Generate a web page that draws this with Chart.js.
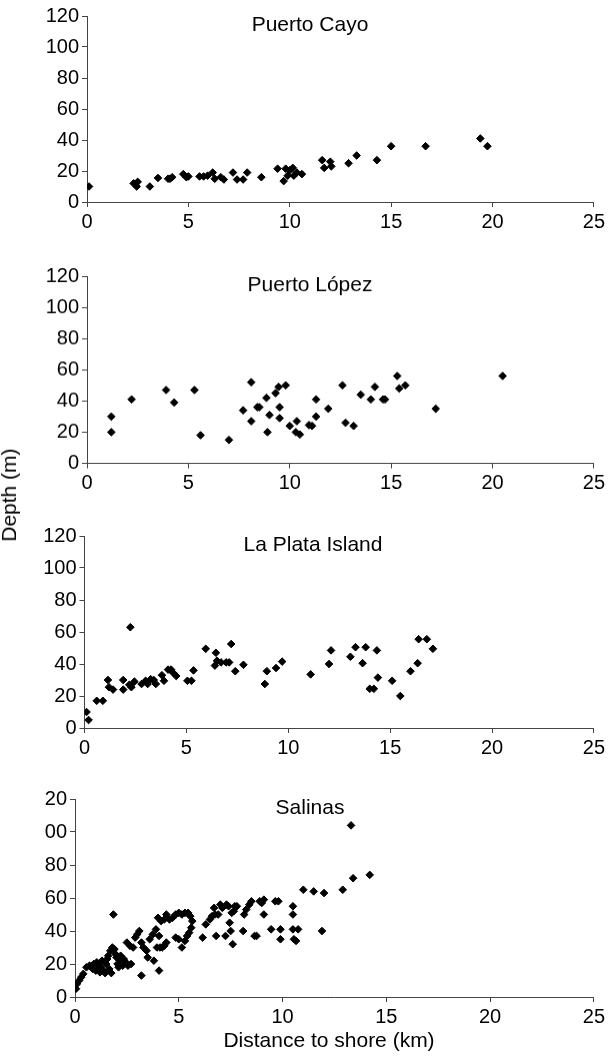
<!DOCTYPE html>
<html>
<head>
<meta charset="utf-8">
<script src="https://cdn.jsdelivr.net/npm/chart.js@4.4.0/dist/chart.umd.min.js"></script>
<style>
  html, body { margin: 0; padding: 0; background: #fff; }
  body { width: 608px; height: 1057px; position: relative; overflow: hidden; font-family: "Liberation Sans", Arial, sans-serif; }
  .panel { position: absolute; left: 0; width: 608px; }
  .axis-title { position: absolute; font-size: 21px; color: #000; white-space: nowrap; }
</style>
</head>
<body>

<div class="axis-title" id="yTitle" style="left:9px; top:495px; transform: translate(-50%, -50%) rotate(-90deg);">Depth (m)</div>
<div class="axis-title" id="xTitle" style="left:329px; top:1040px; transform: translate(-50%, -50%);">Distance to shore (km)</div>

<script>
// distance to shore (km), depth (m)
const puertoCayo = [
  [0.1, 10], [2.3, 12], [2.45, 10], [2.5, 13], [3.1, 10], [3.5, 15.5], [4.0, 15], [4.1, 15],
  [4.2, 16], [4.75, 18], [4.9, 16], [5.0, 16.5], [5.55, 16.5], [5.75, 16.5], [5.95, 17],
  [6.2, 19], [6.3, 15], [6.6, 16], [6.75, 14.5], [7.2, 19], [7.4, 14.5], [7.7, 14.5],
  [7.9, 19], [8.6, 16], [9.4, 21.5], [9.7, 13.5], [9.8, 21.5], [9.9, 17], [10.0, 20.5],
  [10.15, 22], [10.2, 17], [10.35, 19], [10.6, 18], [11.6, 27], [11.7, 22], [12.0, 26],
  [12.05, 23], [12.9, 25], [13.3, 30], [14.3, 27], [15.0, 36], [16.7, 36], [19.4, 41], [19.75, 36]
];

const puertoLopez = [
  [1.2, 30], [1.2, 20], [2.2, 41], [3.9, 47], [4.3, 39], [5.3, 47], [5.6, 18], [7.0, 15],
  [7.7, 34], [8.1, 52], [8.1, 27], [8.4, 36], [8.5, 36], [8.85, 42], [8.9, 20], [9.0, 31],
  [9.3, 45], [9.45, 49], [9.5, 36], [9.5, 29], [9.8, 50], [10.0, 24], [10.3, 20], [10.35, 27],
  [10.5, 18.5], [10.95, 24.5], [11.1, 24], [11.3, 41], [11.3, 30], [11.9, 35], [12.6, 50],
  [12.75, 26], [13.15, 24], [13.5, 44], [14.0, 41], [14.2, 49], [14.6, 41], [14.7, 41],
  [15.3, 56], [15.4, 48], [15.7, 50], [17.2, 35], [20.5, 56]
];

const laPlata = [
  [0.1, 10], [0.2, 5], [0.6, 17], [0.9, 17], [1.15, 30], [1.2, 25.5], [1.4, 24], [1.9, 30],
  [1.9, 24], [2.25, 63], [2.2, 27], [2.3, 25.5], [2.45, 29], [2.8, 27.5], [3.0, 29.5],
  [3.1, 27.5], [3.25, 30.5], [3.4, 30], [3.5, 27.5], [3.8, 33], [3.9, 29.5], [4.1, 36.5],
  [4.25, 36.5], [4.35, 34.5], [4.5, 32.5], [5.05, 29.5], [5.25, 29.5], [5.35, 36],
  [5.95, 49.5], [6.45, 47], [6.4, 39], [6.5, 42], [6.7, 41], [6.95, 41], [7.1, 41],
  [7.2, 52.5], [7.4, 35.5], [7.8, 39.5], [8.85, 27.5], [8.95, 35.5], [9.4, 37.5],
  [9.7, 41.5], [11.1, 33.5], [12.0, 40], [12.1, 48.5], [13.05, 44.5], [13.3, 50.5],
  [13.65, 40.5], [13.8, 50.5], [14.0, 24.5], [14.2, 24.5], [14.35, 48.5], [14.4, 31.5],
  [15.1, 29.5], [15.5, 20], [16.0, 35.5], [16.35, 40.5], [16.4, 55.5], [16.8, 55.5], [17.1, 49.5]
];

const salinas = [
  [0.05, 5], [0.1, 8], [0.2, 10], [0.3, 12], [0.4, 14], [0.55, 18], [0.7, 19], [0.85, 17],
  [0.9, 20], [1.0, 16], [1.05, 21], [1.15, 19], [1.2, 15], [1.25, 18], [1.3, 22], [1.35, 16],
  [1.45, 14.5], [1.5, 20], [1.55, 23], [1.6, 25], [1.65, 17], [1.75, 14.5], [1.7, 28],
  [1.8, 30], [1.85, 50], [1.9, 29], [1.95, 26], [2.0, 24], [2.05, 20], [2.1, 18], [2.15, 22],
  [2.2, 25], [2.3, 19], [2.35, 23], [2.45, 21], [2.55, 19], [2.7, 20], [2.5, 33], [2.65, 31],
  [2.8, 30], [2.9, 36], [3.0, 38], [3.1, 40], [3.2, 13], [3.2, 33], [3.3, 30], [3.45, 28],
  [3.5, 24], [3.6, 35], [3.75, 38], [3.8, 22], [3.9, 41], [3.95, 30], [4.05, 16], [4.05, 37],
  [4.1, 30], [4.2, 30], [4.3, 31], [4.4, 33], [4.0, 48], [4.15, 46], [4.3, 47], [4.4, 50],
  [4.55, 47], [4.7, 48], [4.85, 50], [5.0, 51], [5.15, 50], [5.3, 51], [5.45, 51], [5.55, 49],
  [5.65, 46], [5.6, 42], [5.5, 39], [5.4, 37], [5.3, 34], [5.15, 30], [5.0, 35], [4.85, 36],
  [6.15, 36], [6.3, 44], [6.5, 47], [6.6, 49], [6.7, 54], [6.75, 50], [6.8, 37], [6.9, 50],
  [7.0, 56], [7.1, 54], [7.25, 37], [7.3, 56], [7.4, 55], [7.45, 45], [7.5, 40], [7.6, 32],
  [7.55, 51], [7.65, 52], [7.7, 55], [7.8, 55], [8.1, 40], [8.15, 50], [8.25, 53], [8.4, 56],
  [8.5, 58], [8.65, 37], [8.75, 37], [8.9, 58], [9.0, 57], [9.1, 59], [9.1, 50], [9.45, 41],
  [9.65, 58], [9.8, 58], [9.9, 41], [9.9, 35], [10.5, 55], [10.5, 50], [10.5, 41], [10.55, 35],
  [10.65, 34], [10.75, 41], [11.0, 65], [11.5, 64], [12.0, 63], [11.9, 40], [12.9, 65],
  [13.3, 104], [13.4, 72], [14.2, 74]
];

const xTicks = ['0', '5', '10', '15', '20', '25'];
const yTicks = ['0', '20', '40', '60', '80', '100', '120'];
// the Salinas panel has its labels cut on the left in the original
const yTicksSalinas = ['0', '20', '40', '60', '80', '00', '20'];

const panels = [
  { id: 'cayo', title: 'Puerto Cayo', data: puertoCayo, ticks: yTicks, left: 87, right: 595.5, top: 16, bottom: 202, titleX: 310 },
  { id: 'lopez', title: 'Puerto López', data: puertoLopez, ticks: yTicks, left: 87, right: 595.5, top: 276, bottom: 462.5, titleX: 310 },
  { id: 'plata', title: 'La Plata Island', data: laPlata, ticks: yTicks, left: 84.5, right: 595.5, top: 536, bottom: 728, titleX: 313 },
  { id: 'salinas', title: 'Salinas', data: salinas, ticks: yTicksSalinas, left: 75, right: 597, top: 799, bottom: 997, titleX: 310 }
];

const padTop = 20;
const xAxisH = 40;

// draws the panel name inside the plot area
const panelTitle = {
  id: 'panelTitle',
  afterDraw(chart, args, opts) {
    const ctx = chart.ctx;
    ctx.save();
    ctx.font = '21px "Liberation Sans", Arial, sans-serif';
    ctx.fillStyle = '#000';
    ctx.textAlign = 'center';
    ctx.textBaseline = 'middle';
    ctx.fillText(opts.text, opts.x, chart.chartArea.top + 9);
    ctx.restore();
  }
};

panels.forEach(p => {
  const box = document.createElement('div');
  box.className = 'panel';
  box.style.top = (p.top - padTop) + 'px';
  box.style.height = (padTop + (p.bottom - p.top) + xAxisH) + 'px';
  const canvas = document.createElement('canvas');
  canvas.id = p.id;
  box.appendChild(canvas);
  document.body.insertBefore(box, document.getElementById('yTitle'));

  new Chart(canvas.getContext('2d'), {
    type: 'scatter',
    data: {
      datasets: [{
        data: p.data.map(d => ({ x: d[0], y: d[1] })),
        pointStyle: 'rectRot',
        pointRadius: 3.8,
        backgroundColor: '#000',
        borderColor: '#000',
        borderWidth: 1
      }]
    },
    options: {
      responsive: true,
      maintainAspectRatio: false,
      animation: false,
      layout: { padding: { top: padTop, right: 608 - p.right, bottom: 0, left: 0 } },
      plugins: {
        legend: { display: false },
        tooltip: { enabled: false },
        panelTitle: { text: p.title, x: p.titleX }
      },
      scales: {
        x: {
          type: 'linear',
          min: 0,
          max: 25,
          ticks: {
            stepSize: 5,
            color: '#000',
            font: { family: '"Liberation Sans", Arial, sans-serif', size: 20 },
            padding: 3,
            maxRotation: 0,
            callback: (v) => xTicks[v / 5]
          },
          grid: { drawOnChartArea: false, drawTicks: true, tickLength: 5, color: '#444' },
          border: { display: true, color: '#444', width: 1 },
          afterFit: (s) => { s.height = xAxisH; }
        },
        y: {
          min: 0,
          max: 120,
          ticks: {
            stepSize: 20,
            color: '#000',
            font: { family: '"Liberation Sans", Arial, sans-serif', size: 20 },
            padding: 3,
            callback: (v) => p.ticks[v / 20]
          },
          grid: { drawOnChartArea: false, drawTicks: true, tickLength: 5, color: '#444' },
          border: { display: true, color: '#444', width: 1 },
          afterFit: (s) => { s.width = p.left; }
        }
      }
    },
    plugins: [panelTitle]
  });
});
</script>
</body>
</html>
